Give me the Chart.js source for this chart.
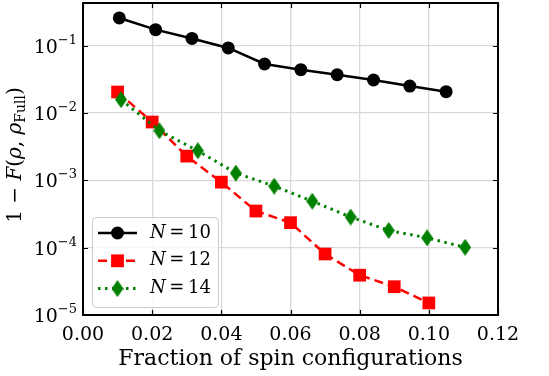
<!DOCTYPE html>
<html>
<head>
<meta charset="utf-8">
<script src="https://cdn.jsdelivr.net/npm/chart.js@4/dist/chart.umd.min.js"></script>
<style>
  html, body { margin: 0; padding: 0; background: #fff; }
  #wrap { width: 549px; height: 376px; position: relative; }
</style>
</head>
<body>
<div id="wrap"><canvas id="c" width="549" height="376"></canvas></div>
<script>
// data
var xN10 = [0.0105, 0.021, 0.0315, 0.042, 0.0525, 0.063, 0.0735, 0.084, 0.0945, 0.105];
var yN10 = [0.258, 0.173, 0.128, 0.0924, 0.0534, 0.044, 0.037, 0.0309, 0.0251, 0.0207];
var xN12 = [0.01, 0.02, 0.03, 0.04, 0.05, 0.06, 0.07, 0.08, 0.09, 0.10];
var yN12 = [0.0205, 0.00734, 0.00229, 0.00094, 0.00035, 0.000235, 0.0000805, 0.000039, 0.0000263, 0.0000151];
var xN14 = [0.011, 0.0221, 0.0332, 0.0442, 0.0553, 0.0663, 0.0774, 0.0884, 0.0995, 0.1105];
var yN14 = [0.0158, 0.00546, 0.00275, 0.00128, 0.00082, 0.00049, 0.000285, 0.00018, 0.00014, 0.000101];
var seriesLabels = ["10", "12", "14"];
var xTicks = [0, 0.02, 0.04, 0.06, 0.08, 0.10, 0.12];
var yTicks = [1e-5, 1e-4, 1e-3, 1e-2, 1e-1];
var yTickExp = ["\u22125", "\u22124", "\u22123", "\u22122", "\u22121"];

var SERIF = "'DejaVu Serif', serif";

function pts(xs, ys) {
  return xs.map(function (x, i) { return { x: x, y: ys[i] }; });
}

// thin diamond marker (matplotlib 'd')
function makeDiamond(w, h, color) {
  var c = document.createElement("canvas");
  c.width = w; c.height = h;
  var g = c.getContext("2d");
  g.fillStyle = color;
  g.beginPath();
  g.moveTo(w / 2, 0);
  g.lineTo(w, h / 2);
  g.lineTo(w / 2, h);
  g.lineTo(0, h / 2);
  g.closePath();
  g.fill();
  return c;
}
var diamond = makeDiamond(12, 17, "#008000");

function drawMarker(ctx, kind, x, y) {
  if (kind === "circle") {
    ctx.fillStyle = "#000";
    ctx.beginPath(); ctx.arc(x, y, 6.5, 0, Math.PI * 2); ctx.fill();
  } else if (kind === "rect") {
    ctx.fillStyle = "#ff0000";
    ctx.fillRect(x - 6.4, y - 6.4, 12.8, 12.8);
  } else {
    ctx.drawImage(diamond, x - diamond.width / 2, y - diamond.height / 2);
  }
}

var decor = {
  id: "decor",
  afterDraw: function (chart) {
    var ctx = chart.ctx;
    var a = chart.chartArea;
    var xs = chart.scales.x, ys = chart.scales.y;
    ctx.save();

    // inward ticks on all sides
    ctx.strokeStyle = "#000";
    ctx.lineWidth = 1.2;
    ctx.beginPath();
    xTicks.forEach(function (v) {
      var px = Math.round(xs.getPixelForValue(v)) + 0.5;
      ctx.moveTo(px, a.bottom); ctx.lineTo(px, a.bottom - 5);
      ctx.moveTo(px, a.top); ctx.lineTo(px, a.top + 5);
    });
    yTicks.forEach(function (v) {
      var py = Math.round(ys.getPixelForValue(v)) + 0.5;
      ctx.moveTo(a.left, py); ctx.lineTo(a.left + 5, py);
      ctx.moveTo(a.right, py); ctx.lineTo(a.right - 5, py);
    });
    ctx.stroke();

    // frame
    ctx.lineWidth = 2;
    ctx.strokeRect(a.left, a.top, a.right - a.left, a.bottom - a.top);

    // y tick labels 10^-n
    ctx.fillStyle = "#000";
    ctx.textBaseline = "alphabetic";
    yTicks.forEach(function (v, i) {
      var py = ys.getPixelForValue(v);
      ctx.font = "13px " + SERIF;
      var ew = ctx.measureText(yTickExp[i]).width;
      ctx.font = "19px " + SERIF;
      var bw = ctx.measureText("10").width;
      var right = a.left - 6;
      ctx.textAlign = "left";
      ctx.fillText("10", right - ew - bw, py + 7);
      ctx.font = "13px " + SERIF;
      ctx.fillText(yTickExp[i], right - ew, py - 2);
    });

    // x title
    ctx.font = "22px " + SERIF;
    ctx.textAlign = "center";
    ctx.textBaseline = "middle";
    ctx.fillText("Fraction of spin configurations", (a.left + a.right) / 2, 359);

    // y title: 1 − F(ρ, ρ_Full)
    ctx.translate(16, (a.top + a.bottom) / 2 - 4);
    ctx.rotate(-Math.PI / 2);
    var parts = [
      { t: "1 \u2212 ", f: "20px " + SERIF, dy: 0 },
      { t: "F", f: "italic 20px " + SERIF, dy: 0 },
      { t: "(", f: "20px " + SERIF, dy: 0 },
      { t: "\u03C1", f: "italic 20px " + SERIF, dy: 0 },
      { t: ", ", f: "20px " + SERIF, dy: 0 },
      { t: "\u03C1", f: "italic 20px " + SERIF, dy: 0 },
      { t: "Full", f: "14px " + SERIF, dy: 5 },
      { t: ")", f: "20px " + SERIF, dy: 0 }
    ];
    var total = 0;
    parts.forEach(function (p) { ctx.font = p.f; p.w = ctx.measureText(p.t).width; total += p.w; });
    var cx = -total / 2;
    ctx.textAlign = "left";
    ctx.textBaseline = "middle";
    parts.forEach(function (p) {
      ctx.font = p.f;
      ctx.fillText(p.t, cx, p.dy);
      cx += p.w;
    });
    ctx.restore();

    // legend
    ctx.save();
    var lx = 92, ly = 217, lw = 126, lh = 90;
    ctx.fillStyle = "rgba(255,255,255,0.8)";
    ctx.strokeStyle = "#cccccc";
    ctx.lineWidth = 1;
    ctx.beginPath();
    if (ctx.roundRect) ctx.roundRect(lx + 0.5, ly + 0.5, lw, lh, 4); else ctx.rect(lx + 0.5, ly + 0.5, lw, lh);
    ctx.fill(); ctx.stroke();
    var kinds = ["circle", "rect", "diamond"];
    chart.data.datasets.forEach(function (ds, i) {
      var ry = 233 + i * 27.8;
      ctx.strokeStyle = ds.borderColor;
      ctx.lineWidth = ds.borderWidth;
      ctx.setLineDash(ds.borderDash || []);
      ctx.beginPath();
      ctx.moveTo(98, ry); ctx.lineTo(137, ry);
      ctx.stroke();
      ctx.setLineDash([]);
      drawMarker(ctx, kinds[i], 117.5, ry);
      ctx.fillStyle = "#000";
      ctx.textAlign = "left";
      ctx.textBaseline = "middle";
      ctx.font = "italic 18px " + SERIF;
      ctx.fillText("N", 150, ry);
      var nw = ctx.measureText("N").width;
      ctx.font = "18px " + SERIF;
      ctx.fillText("\u2009=\u2009" + seriesLabels[i], 150 + nw, ry);
    });
    ctx.restore();
  }
};

new Chart(document.getElementById("c"), {
  type: "scatter",
  data: {
    datasets: [
      {
        label: "N = " + seriesLabels[0],
        data: pts(xN10, yN10),
        showLine: true,
        borderColor: "#000000",
        backgroundColor: "#000000",
        borderWidth: 2.5,
        pointStyle: "circle",
        pointRadius: 6.5,
        pointBorderWidth: 0,
        order: 3
      },
      {
        label: "N = " + seriesLabels[1],
        data: pts(xN12, yN12),
        showLine: true,
        borderColor: "#ff0000",
        backgroundColor: "#ff0000",
        borderWidth: 2.5,
        borderDash: [9, 5],
        pointStyle: "rect",
        pointRadius: 9,
        pointBorderWidth: 0,
        order: 2
      },
      {
        label: "N = " + seriesLabels[2],
        data: pts(xN14, yN14),
        showLine: true,
        borderColor: "#008000",
        backgroundColor: "#008000",
        borderWidth: 3,
        borderDash: [2.5, 4.5],
        pointStyle: diamond,
        pointRadius: 8,
        order: 1
      }
    ]
  },
  options: {
    responsive: false,
    animation: false,
    events: [],
    layout: { autoPadding: false, padding: { top: 3, right: 51, left: 0, bottom: 0 } },
    plugins: { legend: { display: false }, tooltip: { enabled: false } },
    scales: {
      x: {
        type: "linear",
        min: 0,
        max: 0.12,
        afterFit: function (s) { s.height = 61; s.paddingLeft = 0; s.paddingRight = 0; },
        afterBuildTicks: function (s) { s.ticks = xTicks.map(function (v) { return { value: v }; }); },
        grid: { color: "#d9d9d9", lineWidth: 1.3, drawTicks: false },
        border: { display: false },
        ticks: {
          padding: 9,
          color: "#000",
          font: { family: SERIF, size: 19 },
          maxRotation: 0,
          callback: function (v) { return Number(v).toFixed(2); }
        }
      },
      y: {
        type: "logarithmic",
        min: 1e-5,
        max: 0.43,
        afterFit: function (s) { s.width = 83; s.paddingTop = 0; s.paddingBottom = 0; },
        afterBuildTicks: function (s) { s.ticks = yTicks.map(function (v) { return { value: v }; }); },
        grid: { color: "#d9d9d9", lineWidth: 1.3, drawTicks: false },
        border: { display: false },
        ticks: { display: false }
      }
    }
  },
  plugins: [decor]
});
</script>
</body>
</html>
